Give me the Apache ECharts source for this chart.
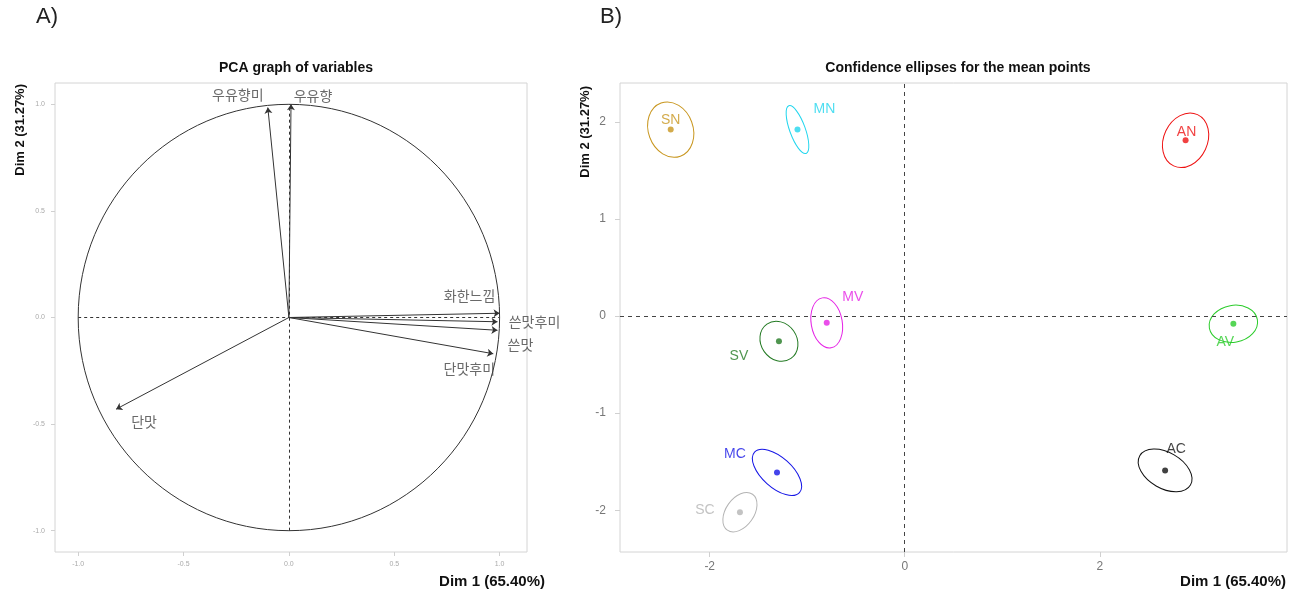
<!DOCTYPE html>
<html>
<head>
<meta charset="utf-8">
<script src="https://cdn.jsdelivr.net/npm/echarts@6/dist/echarts.min.js"></script>
<style>
  html, body { margin: 0; padding: 0; background: #fff; }
  #chart { width: 1292px; height: 593px; }
</style>
</head>
<body>
<div id="chart"></div>
<script>
// A) PCA graph of variables
const varNames = ['우유향미', '우유향', '화한느낌', '쓴맛후미', '쓴맛', '단맛후미', '단맛'];
const varDim1 = [-0.10, 0.01, 1.00, 0.99, 0.99, 0.97, -0.82];
const varDim2 = [0.985, 1.00, 0.02, -0.02, -0.06, -0.17, -0.43];
const varTicks = [-1, -0.5, 0, 0.5, 1];

// B) confidence ellipses for the mean points
const groupNames = ['SN', 'MN', 'AN', 'MV', 'SV', 'AV', 'MC', 'SC', 'AC'];
const groupDim1 = [-2.40, -1.10, 2.88, -0.80, -1.29, 3.37, -1.31, -1.69, 2.67];
const groupDim2 = [1.92, 1.92, 1.81, -0.07, -0.26, -0.08, -1.61, -2.02, -1.59];
const ellMajor = [0.29, 0.26, 0.29, 0.26, 0.215, 0.25, 0.31, 0.225, 0.30];
const ellMinor = [0.23, 0.08, 0.225, 0.16, 0.185, 0.19, 0.155, 0.145, 0.185];
const ellAngle = [110, 110, 65, 100, 125, 10, 138, 55, 150];
const xTicksB = [-2, 0, 2];
const yTicksB = [-2, -1, 0, 1, 2];

// styling only
const groupColors = ['#c8961e', '#22d6ee', '#ee1111', '#e522e5', '#237a23', '#2ccc2c', '#1515e6', '#b4b4b4', '#111111'];
const groupLabelOffset = [[0, -9], [27, -20], [1, -8], [26, -26], [-40, 15], [-8, 18], [-42, -18], [-35, -2], [11, -21]];
const varLabelOffset = [[-30, -13], [22, -9], [-30, -18], [37, 0], [23, 14], [-24, 15], [28, 13]];

const chart = echarts.init(document.getElementById('chart'));

const lat = '"Liberation Sans", Arial, sans-serif';
const kor = '"Noto Sans CJK KR", sans-serif';

function ellipseItem(params, api, color) {
  const c = api.coord([api.value(0), api.value(1)]);
  const rx = api.size([api.value(2), 0])[0];
  const ry = api.size([0, api.value(3)])[1];
  return {
    type: 'ellipse',
    x: c[0], y: c[1],
    rotation: api.value(4) * Math.PI / 180,
    shape: { cx: 0, cy: 0, rx: rx, ry: ry },
    style: { fill: 'none', stroke: color, lineWidth: 1 },
    silent: true
  };
}

const option = {
  animation: false,
  textStyle: { fontFamily: lat },
  title: [
    { text: 'PCA graph of variables', left: 291, top: 56, textAlign: 'center',
      textStyle: { fontSize: 14, fontWeight: 'bold', color: '#111', fontFamily: lat } },
    { text: 'Confidence ellipses for the mean points', left: 953, top: 56, textAlign: 'center',
      textStyle: { fontSize: 14, fontWeight: 'bold', color: '#111', fontFamily: lat } }
  ],
  graphic: [
    { type: 'text', left: 36, top: 6, style: { text: 'A)', font: '22px ' + lat, fill: '#222' } },
    { type: 'text', left: 600, top: 6, style: { text: 'B)', font: '22px ' + lat, fill: '#222' } },
    { type: 'text', x: 545, y: 582, style: { text: 'Dim 1 (65.40%)', font: 'bold 15px ' + lat, fill: '#111', align: 'right', verticalAlign: 'middle' } },
    { type: 'text', x: 1286, y: 582, style: { text: 'Dim 1 (65.40%)', font: 'bold 15px ' + lat, fill: '#111', align: 'right', verticalAlign: 'middle' } },
    { type: 'text', x: 20, y: 84, rotation: Math.PI / 2, style: { text: 'Dim 2 (31.27%)', font: 'bold 13px ' + lat, fill: '#111', align: 'right', verticalAlign: 'middle' } },
    { type: 'text', x: 585, y: 86, rotation: Math.PI / 2, style: { text: 'Dim 2 (31.27%)', font: 'bold 13px ' + lat, fill: '#111', align: 'right', verticalAlign: 'middle' } }
  ],
  grid: [
    { left: 55, top: 83, width: 472, height: 469, show: true, borderColor: '#d4d4d4', borderWidth: 1 },
    { left: 620, top: 83, width: 667, height: 469, show: true, borderColor: '#d4d4d4', borderWidth: 1 }
  ],
  xAxis: [
    {
      gridIndex: 0, type: 'value', min: -1.11, max: 1.13,
      axisLine: { show: false, onZero: false }, splitLine: { show: false },
      axisTick: { show: true, customValues: varTicks, length: 4, lineStyle: { color: '#d0d0d0' } },
      axisLabel: { customValues: varTicks, fontSize: 7, color: '#aaa', margin: 9, formatter: v => v.toFixed(1) }
    },
    {
      gridIndex: 1, type: 'value', min: -2.92, max: 3.92,
      axisLine: { show: false, onZero: false }, splitLine: { show: false },
      axisTick: { show: true, customValues: xTicksB, length: 5, lineStyle: { color: '#d0d0d0' } },
      axisLabel: { customValues: xTicksB, fontSize: 12, color: '#777', margin: 9 }
    }
  ],
  yAxis: [
    {
      gridIndex: 0, type: 'value', min: -1.1, max: 1.1,
      axisLine: { show: false, onZero: false }, splitLine: { show: false },
      axisTick: { show: true, customValues: varTicks, length: 4, lineStyle: { color: '#d0d0d0' } },
      axisLabel: { customValues: varTicks, fontSize: 7, color: '#aaa', margin: 10, formatter: v => v.toFixed(1) }
    },
    {
      gridIndex: 1, type: 'value', min: -2.43, max: 2.40,
      axisLine: { show: false, onZero: false }, splitLine: { show: false },
      axisTick: { show: true, customValues: yTicksB, length: 5, lineStyle: { color: '#d0d0d0' } },
      axisLabel: { customValues: yTicksB, fontSize: 12, color: '#777', margin: 14 }
    }
  ],
  series: [
    // unit circle
    {
      type: 'custom', xAxisIndex: 0, yAxisIndex: 0, silent: true,
      data: [[0, 0, 1, 1, 0]],
      renderItem: (p, api) => ellipseItem(p, api, '#333')
    },
    // dashed axes inside circle
    {
      type: 'lines', coordinateSystem: 'cartesian2d', xAxisIndex: 0, yAxisIndex: 0, silent: true,
      lineStyle: { color: '#333', width: 1, opacity: 1, type: [3, 3] },
      data: [{ coords: [[-1, 0], [1, 0]] }, { coords: [[0, -1], [0, 1]] }]
    },
    // variable arrows
    {
      type: 'lines', coordinateSystem: 'cartesian2d', xAxisIndex: 0, yAxisIndex: 0, silent: true,
      symbol: ['none', 'arrow'], symbolSize: 6,
      lineStyle: { color: '#333', width: 1, opacity: 1 },
      data: varNames.map((n, i) => ({ coords: [[0, 0], [varDim1[i], varDim2[i]]] }))
    },
    // variable labels
    {
      type: 'scatter', xAxisIndex: 0, yAxisIndex: 0, silent: true,
      symbolSize: 1, itemStyle: { color: 'rgba(0,0,0,0)' },
      data: varNames.map((n, i) => ({
        name: n, value: [varDim1[i], varDim2[i]],
        label: {
          show: true, position: 'inside', offset: varLabelOffset[i],
          formatter: '{b}', fontSize: 14, color: '#444', fontFamily: kor
        }
      }))
    },
    // confidence ellipses
    {
      type: 'custom', xAxisIndex: 1, yAxisIndex: 1, silent: true,
      data: groupNames.map((n, i) => [groupDim1[i], groupDim2[i], ellMajor[i], ellMinor[i], ellAngle[i]]),
      renderItem: (p, api) => ellipseItem(p, api, groupColors[p.dataIndex])
    },
    // mean points
    {
      type: 'scatter', xAxisIndex: 1, yAxisIndex: 1, silent: true,
      symbolSize: 6,
      data: groupNames.map((n, i) => ({
        name: n, value: [groupDim1[i], groupDim2[i]],
        itemStyle: { color: groupColors[i] },
        label: {
          show: true, position: 'inside', offset: groupLabelOffset[i],
          formatter: '{b}', fontSize: 14, color: groupColors[i], fontFamily: lat
        }
      })),
      markLine: {
        silent: true, symbol: 'none', label: { show: false },
        lineStyle: { color: '#444', width: 1, type: [4, 4] },
        data: [{ xAxis: 0 }, { yAxis: 0 }]
      }
    }
  ]
};

chart.setOption(option);
</script>
</body>
</html>
